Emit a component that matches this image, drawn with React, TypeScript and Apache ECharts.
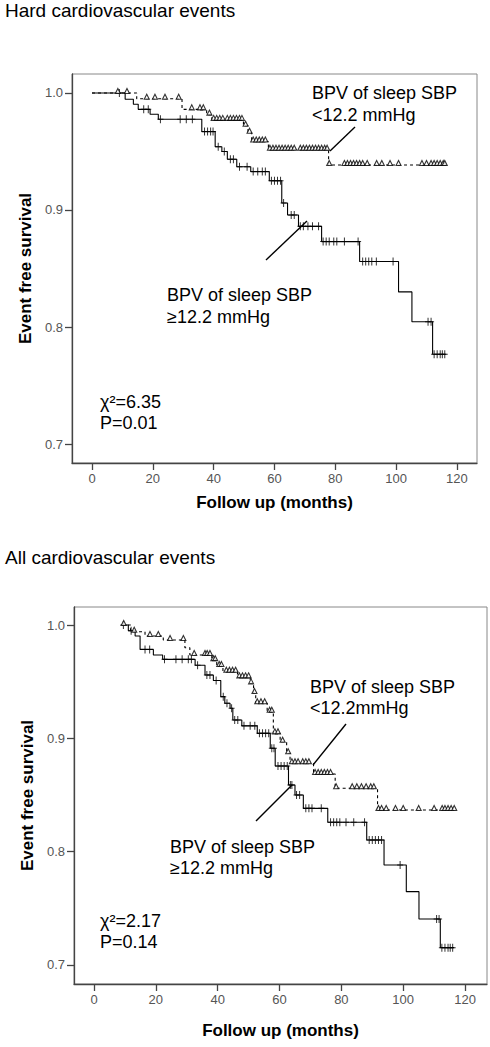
import React, { useEffect, useRef } from "react";
import * as echarts from "echarts";

const FONT = "'Liberation Sans', Arial, Helvetica, sans-serif";

const xTicks = [0, 20, 40, 60, 80, 100, 120];
const yTicks = [0.7, 0.8, 0.9, 1.0];

const titles = ["Hard cardiovascular events", "All cardiovascular events"];
const xName = "Follow up (months)";
const yName = "Event free survival";

// ---- Hard cardiovascular events ----
// BPV of sleep SBP >= 12.2 mmHg (solid)
const hardHighTimes = [0, 10.9, 13.6, 15.2, 19.1, 21.8, 36.1, 40.5, 42.7, 44.5, 47.6, 52.2, 58.3, 62.4, 64.3, 67.9, 75.5, 88.0, 100.8, 105.2, 112.0, 116.5];
const hardHighSurv = [1.0, 0.9946, 0.9903, 0.986, 0.9818, 0.9775, 0.967, 0.954, 0.95, 0.9433, 0.937, 0.9328, 0.925, 0.906, 0.8957, 0.886, 0.873, 0.856, 0.83, 0.8045, 0.7767, 0.7767];
const hardHighCensor = [9, 17, 18.5, 22.5, 29, 31, 33, 37, 38, 39, 39.8, 41.5, 43.5, 45.5, 46.5, 48.5, 51, 53, 54.5, 56, 57, 59, 60, 61, 62, 63, 65.5, 66.5, 68.5, 69.5, 71, 72.5, 74.5, 76, 77, 78, 79.5, 80.5, 83, 87.5, 89, 90, 91, 92, 93.5, 99, 110.5, 111.5, 112.5, 113.5, 114.5, 115.2, 116];

// BPV of sleep SBP < 12.2 mmHg (dashed)
const hardLowTimes = [0, 14.7, 29.6, 37.7, 39.4, 49.8, 51.3, 52.5, 58.0, 77.8, 116.5];
const hardLowSurv = [1.0, 0.995, 0.986, 0.9815, 0.977, 0.972, 0.966, 0.9585, 0.9515, 0.9385, 0.9385];
const hardLowCensor = [8.5, 11.5, 18, 20.7, 24, 28.5, 32.8, 35.5, 36.6, 38.6, 40, 41, 42, 43, 44.5, 45.5, 46.5, 47.5, 48.5, 49.3, 50.5, 51.8, 53, 54, 55, 56, 57, 58.5, 59.5, 60.5, 61.5, 62.5, 63.5, 64.5, 65.5, 66.5, 68.5, 69.5, 70.5, 71.5, 72.5, 73.5, 74.5, 75.5, 76.5, 77.3, 78, 83, 84, 85, 86, 87, 88, 89, 90.5, 93.6, 95.3, 98, 100.8, 108.5, 110, 111.5, 112.5, 113.5, 114.5, 115.5, 116];

// ---- All cardiovascular events ----
const allHighTimes = [9.0, 11.1, 13.3, 14.9, 19.2, 22.2, 32.7, 35.9, 38.6, 41.0, 42.3, 44.0, 44.9, 47.8, 52.8, 57.0, 58.6, 62.9, 65.0, 67.7, 75.6, 88.2, 93.8, 101.0, 105.1, 112.0, 116.5];
const allHighSurv = [1.0, 0.995, 0.9903, 0.9785, 0.9735, 0.9697, 0.9645, 0.9559, 0.951, 0.9368, 0.931, 0.9265, 0.9162, 0.911, 0.9044, 0.8912, 0.8756, 0.8588, 0.85, 0.8382, 0.826, 0.8103, 0.7882, 0.7647, 0.7406, 0.7153, 0.7153];
const allHighCensor = [9.5, 12, 16.5, 18, 22.8, 26.5, 28.5, 30.5, 31.5, 33.5, 36.5, 37.5, 39.5, 41.8, 43, 44.5, 45.5, 46.5, 48.5, 50.5, 52, 53.5, 54.5, 55.5, 56.5, 57.5, 58.2, 59.5, 60.5, 61.5, 62.5, 63.5, 64, 65.5, 66.5, 68.5, 69.5, 70.5, 73.5, 76.5, 77.5, 78.5, 79.5, 81.5, 84, 87.5, 89, 90, 91, 92, 93, 99, 110.8, 111.6, 112.5, 113.5, 114.5, 115.2, 116];

const allLowTimes = [9.0, 11.8, 16.5, 22.4, 29.4, 31.0, 38.1, 39.7, 41.7, 46.4, 50.5, 51.6, 52.3, 56.0, 58.0, 60.2, 62.3, 63.4, 71.0, 78.0, 91.7, 116.5];
const allLowSurv = [1.0, 0.994, 0.9903, 0.9868, 0.98, 0.9735, 0.969, 0.9638, 0.9588, 0.9538, 0.9485, 0.94, 0.931, 0.9235, 0.9044, 0.897, 0.8868, 0.878, 0.8685, 0.856, 0.8368, 0.8368];
const allLowCensor = [9.6, 13, 18.1, 20.8, 24.6, 28.9, 32.4, 35.9, 36.6, 37.5, 38.6, 39.2, 40.5, 41.2, 42.8, 43.8, 44.8, 45.8, 47, 48, 49, 50, 50.8, 51.9, 52.8, 54, 55.2, 56.8, 57.5, 58.5, 59.5, 61, 62.8, 64, 65, 66, 67.5, 68.5, 69.5, 71.5, 72.5, 73.5, 74.5, 75.5, 76.5, 78.3, 83.5, 85, 86.5, 88, 89.5, 90.5, 92, 93, 94.5, 97.5, 100, 105, 110, 112.6, 113.5, 114.5, 115.5, 116.5];

const PLUS = "path://M2.5,0H3.5V8H2.5Z M0,3.5H6V4.5H0Z";

function levelAt(times: number[], surv: number[], t: number) {
  let v = surv[0];
  for (let i = 0; i < times.length; i++) {
    if (times[i] <= t) v = surv[i];
  }
  return v;
}

function stepSeries(gi: number, times: number[], surv: number[], dashed: boolean) {
  return {
    type: "line",
    xAxisIndex: gi,
    yAxisIndex: gi,
    step: "end",
    symbol: "none",
    data: times.map((t, i) => [t, surv[i]]),
    lineStyle: { color: "#000", width: 1.1, type: dashed ? [3, 3] : "solid" },
    z: 3,
  };
}

function censorSeries(gi: number, times: number[], surv: number[], cens: number[], plus: boolean) {
  return {
    type: "scatter",
    xAxisIndex: gi,
    yAxisIndex: gi,
    data: cens.map((t) => [t, levelAt(times, surv, t)]),
    symbol: plus ? PLUS : "triangle",
    symbolSize: plus ? [6, 8] : 5,
    symbolOffset: plus ? [0, 0] : [0, -2],
    itemStyle: plus
      ? { color: "#000" }
      : { color: "#fff", borderColor: "#000", borderWidth: 1.1 },
    z: 4,
  };
}

function mkX(gi: number, min: number, max: number, gap: number) {
  return {
    type: "value",
    gridIndex: gi,
    min,
    max,
    name: xName,
    nameLocation: "middle",
    nameGap: gap,
    nameTextStyle: { fontSize: 17, fontWeight: "bold", color: "#000", fontFamily: FONT },
    axisLine: { show: true, onZero: false, lineStyle: { color: "#444", width: 1.3 } },
    axisTick: { show: true, customValues: xTicks, length: 7, lineStyle: { color: "#444", width: 1.3 } },
    axisLabel: { customValues: xTicks, color: "#555", fontSize: 13, margin: 9, fontFamily: FONT },
    splitLine: { show: false },
  };
}

function mkY(gi: number, min: number, max: number, gap: number) {
  return {
    type: "value",
    gridIndex: gi,
    min,
    max,
    name: yName,
    nameLocation: "middle",
    nameGap: gap,
    nameRotate: 90,
    nameTextStyle: { fontSize: 17, fontWeight: "bold", color: "#000", fontFamily: FONT },
    axisLine: { show: true, onZero: false, lineStyle: { color: "#444", width: 1.3 } },
    axisTick: { show: true, customValues: yTicks, length: 7, lineStyle: { color: "#444", width: 1.3 } },
    axisLabel: {
      customValues: yTicks,
      color: "#555",
      fontSize: 13,
      margin: 9,
      fontFamily: FONT,
      formatter: (v: number) => Number(v).toFixed(1),
    },
    splitLine: { show: false },
  };
}

function txt(x: number, y: number, text: string) {
  return {
    type: "text",
    x,
    y,
    style: { text, fontSize: 18, fontFamily: FONT, fill: "#000", verticalAlign: "middle", align: "left" },
    z: 10,
  };
}

function ln(x1: number, y1: number, x2: number, y2: number) {
  return {
    type: "line",
    shape: { x1, y1, x2, y2 },
    style: { stroke: "#000", lineWidth: 1.4 },
    z: 10,
  };
}

export default function App() {
  const ref = useRef<HTMLDivElement>(null);
  useEffect(() => {
    document.body.style.margin = "0";
    if (!ref.current) return;
    const chart = echarts.init(ref.current, undefined, { renderer: "svg" });
    const option: any = {
      animation: false,
      backgroundColor: "#fff",
      textStyle: { fontFamily: FONT },
      title: [
        { text: titles[0], left: 5, top: 1, padding: 0, textStyle: { fontSize: 19, fontWeight: "normal", color: "#000", fontFamily: FONT } },
        { text: titles[1], left: 5, top: 548, padding: 0, textStyle: { fontSize: 19, fontWeight: "normal", color: "#000", fontFamily: FONT } },
      ],
      grid: [
        { left: 72, top: 74, width: 405, height: 389, show: true, borderColor: "#888", borderWidth: 1, backgroundColor: "transparent", containLabel: false },
        { left: 74, top: 607, width: 413, height: 377, show: true, borderColor: "#888", borderWidth: 1, backgroundColor: "transparent", containLabel: false },
      ],
      xAxis: [mkX(0, -6.58, 126.6, 31), mkX(1, -6.47, 127.1, 38)],
      yAxis: [mkY(0, 0.6838, 1.0162, 26), mkY(1, 0.6832, 1.0159, 28)],
      series: [
        stepSeries(0, hardHighTimes, hardHighSurv, false),
        stepSeries(0, hardLowTimes, hardLowSurv, true),
        censorSeries(0, hardHighTimes, hardHighSurv, hardHighCensor, true),
        censorSeries(0, hardLowTimes, hardLowSurv, hardLowCensor, false),
        stepSeries(1, allHighTimes, allHighSurv, false),
        stepSeries(1, allLowTimes, allLowSurv, true),
        censorSeries(1, allHighTimes, allHighSurv, allHighCensor, true),
        censorSeries(1, allLowTimes, allLowSurv, allLowCensor, false),
      ],
      graphic: [
        txt(312, 93, "BPV of sleep SBP"),
        txt(312, 115, "<12.2 mmHg"),
        ln(355, 127, 330, 151),
        txt(167, 295, "BPV of sleep SBP"),
        txt(167, 317, "\u226512.2 mmHg"),
        ln(266, 260, 307, 221),
        txt(100, 402, "\u03c7\u00b2=6.35"),
        txt(100, 423, "P=0.01"),
        txt(310, 687, "BPV of sleep SBP"),
        txt(310, 708, "<12.2mmHg"),
        ln(346, 724, 313, 765),
        txt(170, 847, "BPV of sleep SBP"),
        txt(170, 868, "\u226512.2 mmHg"),
        ln(256, 821, 292, 785),
        txt(100, 921, "\u03c7\u00b2=2.17"),
        txt(100, 942, "P=0.14"),
      ],
    };
    chart.setOption(option);
    return () => chart.dispose();
  }, []);
  return <div ref={ref} style={{ width: 490, height: 1047 }} />;
}
